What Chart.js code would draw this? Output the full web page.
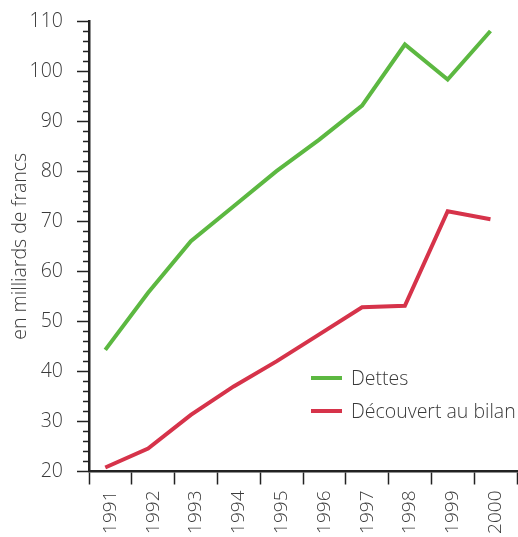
<!DOCTYPE html>
<html>
<head>
<meta charset="utf-8">
<script src="https://cdn.jsdelivr.net/npm/chart.js@4"></script>
<style>
  html, body { margin: 0; padding: 0; background: #fff; }
  #wrap { width: 518px; height: 537px; }
</style>
</head>
<body>
<div id="wrap"><canvas id="debtChart" width="518" height="537"></canvas></div>
<script>
const years = ['1991', '1992', '1993', '1994', '1995', '1996', '1997', '1998', '1999', '2000'];
const dettes = [44.3, 55.7, 66.0, 73.0, 80.0, 86.3, 93.1, 105.3, 98.3, 108.0];
const decouvert = [20.8, 24.6, 31.3, 37.0, 42.0, 47.4, 52.8, 53.1, 72.0, 70.4];
const seriesLabels = ['Dettes', 'Découvert au bilan'];
const seriesColors = ['#5cb841', '#d6334a'];
const yMin = 20;
const yMax = 110;

const textColor = '#3a3a3a';
const fontFamily = "'Open Sans', 'Liberation Sans', sans-serif";

// short outward ticks every 2 units on the y axis
const minorTicks = {
  id: 'minorTicks',
  afterDraw(chart) {
    const y = chart.scales.y;
    const ctx = chart.ctx;
    ctx.save();
    ctx.strokeStyle = '#222';
    ctx.lineWidth = 1.5;
    for (let v = yMin; v <= yMax; v += 2) {
      if (v % 10 === 0) continue;
      const py = Math.round(y.getPixelForValue(v)) + 0.5;
      ctx.beginPath();
      ctx.moveTo(y.right - 6, py);
      ctx.lineTo(y.right, py);
      ctx.stroke();
    }
    ctx.restore();
  }
};

// legend sitting inside the plot, lower right
const innerLegend = {
  id: 'innerLegend',
  afterDraw(chart) {
    const ctx = chart.ctx;
    ctx.save();
    ctx.font = '300 19.5px ' + fontFamily;
    ctx.textBaseline = 'middle';
    chart.data.datasets.forEach((ds, i) => {
      const yy = 378 + i * 33;
      ctx.strokeStyle = ds.borderColor;
      ctx.lineWidth = 4;
      ctx.beginPath();
      ctx.moveTo(311, yy);
      ctx.lineTo(342, yy);
      ctx.stroke();
      ctx.fillStyle = textColor;
      ctx.fillText(ds.label, 351, yy + 1);
    });
    ctx.restore();
  }
};

const toPoints = (values) => values.map((v, i) => ({ x: i, y: v }));

new Chart(document.getElementById('debtChart'), {
  type: 'line',
  data: {
    labels: years,
    datasets: [
      {
        label: seriesLabels[0],
        data: toPoints(dettes),
        xAxisID: 'xd',
        borderColor: seriesColors[0],
        borderWidth: 4,
        pointRadius: 0,
        tension: 0,
        fill: false
      },
      {
        label: seriesLabels[1],
        data: toPoints(decouvert),
        xAxisID: 'xd',
        borderColor: seriesColors[1],
        borderWidth: 4,
        pointRadius: 0,
        tension: 0,
        fill: false
      }
    ]
  },
  options: {
    responsive: false,
    animation: false,
    layout: { padding: { top: 21, right: 1, left: 0, bottom: 0 } },
    plugins: {
      legend: { display: false },
      tooltip: { enabled: false }
    },
    scales: {
      x: {
        type: 'category',
        offset: true,
        afterFit: (s) => {
          s.height = 65.5;
          s.paddingLeft = 0;
          s.paddingRight = 0;
        },
        grid: {
          offset: true,
          drawOnChartArea: false,
          drawTicks: true,
          tickLength: 13,
          tickWidth: 1.5,
          tickColor: '#222'
        },
        border: { color: '#222', width: 2.5 },
        ticks: {
          color: textColor,
          font: { family: fontFamily, size: 19, weight: '300' },
          minRotation: 90,
          maxRotation: 90,
          padding: 6,
          autoSkip: false
        }
      },
      xd: {
        type: 'linear',
        display: false,
        min: -0.38,
        max: 9.62
      },
      y: {
        min: yMin,
        max: yMax,
        afterFit: (s) => {
          s.width = 89;
          s.paddingTop = 0;
          s.paddingBottom = 0;
        },
        grid: {
          drawOnChartArea: false,
          tickLength: 12,
          tickWidth: 1.5,
          tickColor: '#222'
        },
        border: { color: '#222', width: 2.5 },
        ticks: {
          stepSize: 10,
          color: textColor,
          font: { family: fontFamily, size: 19.5, weight: '300' },
          padding: 14
        },
        title: {
          display: true,
          text: 'en milliards de francs',
          color: textColor,
          font: { family: fontFamily, size: 19.5, weight: '300' },
          padding: { top: 9, bottom: 0 }
        }
      }
    }
  },
  plugins: [minorTicks, innerLegend]
});
</script>
</body>
</html>
